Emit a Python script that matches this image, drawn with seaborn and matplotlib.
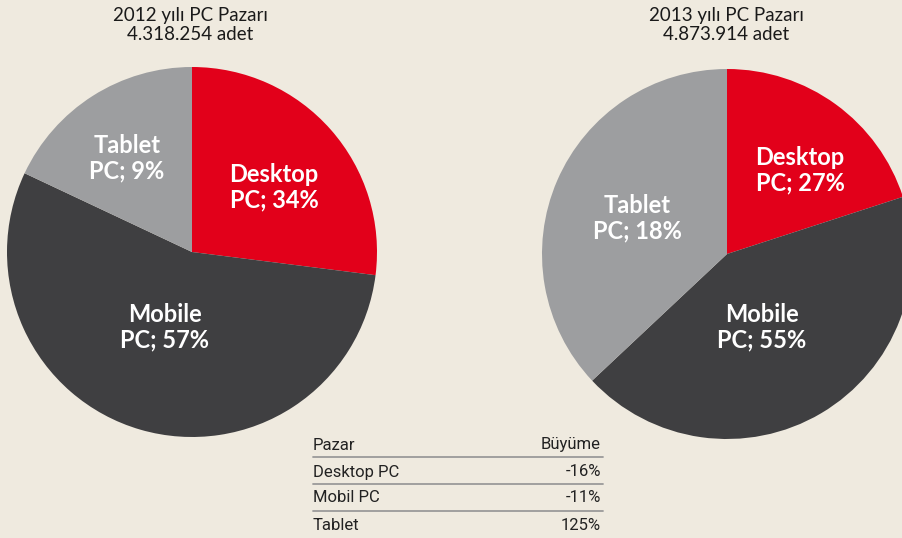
import matplotlib
matplotlib.use("Agg")
import matplotlib.pyplot as plt
import seaborn as sns

# slice shares as drawn in the picture, labels as printed on it
segments = ["Desktop", "Mobile", "Tablet"]
share_2012 = [27, 55, 18]
share_2013 = [20, 43, 37]
label_2012 = ["Desktop\nPC; 34%", "Mobile\nPC; 57%", "Tablet\nPC; 9%"]
label_2013 = ["Desktop\nPC; 27%", "Mobile\nPC; 55%", "Tablet\nPC; 18%"]
titles = ["2012 yılı PC Pazarı\n4.318.254 adet", "2013 yılı PC Pazarı\n4.873.914 adet"]

table_head = ["Pazar", "Büyüme"]
table_rows = ["Desktop PC", "Mobil PC", "Tablet"]
table_growth = ["-16%", "-11%", "125%"]

colors = ["#E2001A", "#3F3F41", "#9D9EA0"]
bg = "#EFEADF"

sns.set_theme(style="white")
plt.rcParams["font.family"] = ["Lato", "DejaVu Sans"]

W, H = 902, 538
fig = plt.figure(figsize=(W / 100, H / 100), dpi=100, facecolor=bg)
ax = fig.add_axes([0, 0, 1, 1])
ax.set_facecolor(bg)


def py(y):
    # pixel row -> data y
    return H - y


pies = [
    (share_2012, label_2012, (192, 252), [(274, 187), (165, 327), (127, 158)], (190, 25)),
    (share_2013, label_2013, (727, 254), [(800, 170), (762, 327), (637, 218)], (726, 25)),
]

for (shares, labels, (cx, cy), lpos, tpos), title in zip(pies, titles):
    ax.pie(shares, colors=colors, startangle=90, counterclock=False,
           center=(cx, py(cy)), radius=185, frame=True,
           wedgeprops=dict(linewidth=0))
    for lab, (lx, ly) in zip(labels, lpos):
        ax.text(lx, py(ly), lab, ha="center", va="center", color="white",
                fontsize=17, fontweight="bold", linespacing=1.15)
    ax.text(tpos[0], py(tpos[1]), title, ha="center", va="center",
            color="#1a1a1a", fontsize=13.5, linespacing=1.1)

# growth table
tx0, tx1 = 313, 601
row_y = [445, 472, 498, 526]
tfont = ["Roboto", "DejaVu Sans"]
ax.text(tx0, py(row_y[0]), table_head[0], ha="left", va="center",
        fontsize=12, color="#222222", family=tfont)
ax.text(tx1, py(row_y[0]), table_head[1], ha="right", va="center",
        fontsize=12, color="#222222", family=tfont)
for name, val, y in zip(table_rows, table_growth, row_y[1:]):
    ax.text(tx0, py(y), name, ha="left", va="center",
            fontsize=12, color="#222222", family=tfont)
    ax.text(tx1, py(y), val, ha="right", va="center",
            fontsize=12, color="#222222", family=tfont)
for ly in [457, 484, 511]:
    ax.plot([tx0, tx1 + 2], [py(ly), py(ly)], color="#9A9A9A", lw=1.3)

ax.set_xlim(0, W)
ax.set_ylim(0, H)
ax.set_aspect("equal")
ax.axis("off")

fig.savefig("out.png", dpi=100, facecolor=bg)
